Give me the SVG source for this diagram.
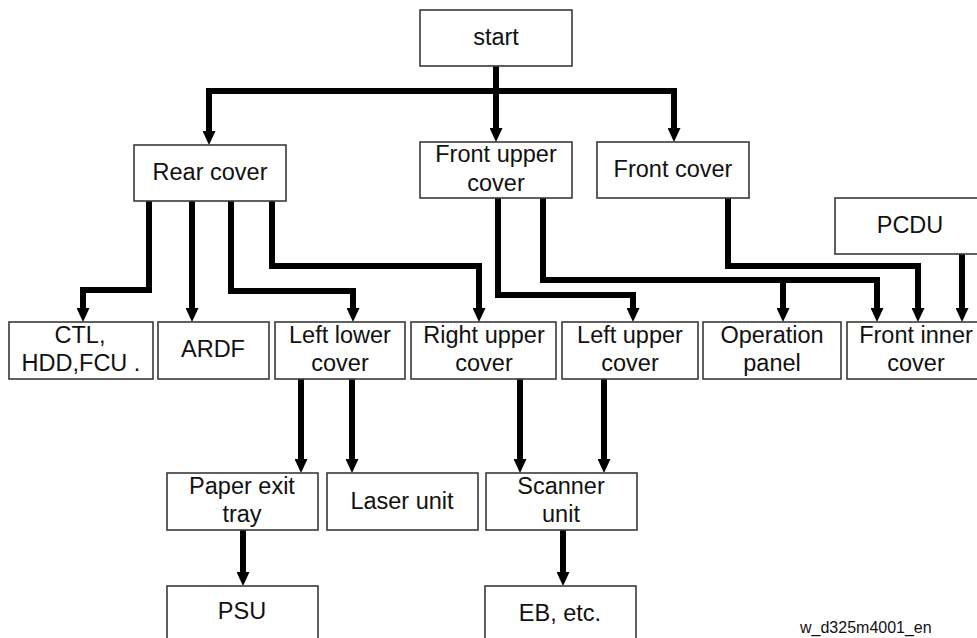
<svg xmlns="http://www.w3.org/2000/svg" width="977" height="638" viewBox="0 0 977 638">
<style>
.box{fill:#fff;stroke:#3a3a3a;stroke-width:1.6}
.t{font-family:"Liberation Sans",Arial,sans-serif;font-size:23.5px;fill:#111;text-anchor:middle}
.c{fill:none;stroke:#000;stroke-width:6;stroke-linejoin:miter;marker-end:url(#ah)}
.wm{font-family:"Liberation Sans",Arial,sans-serif;font-size:16px;fill:#111}
</style>
<defs>
<marker id="ah" viewBox="0 0 14 13" refX="1" refY="6.5" markerWidth="14" markerHeight="13" markerUnits="userSpaceOnUse" orient="auto">
<path d="M0,0 L14,6.5 L0,13 z" fill="#000"/>
</marker>
</defs>
<rect width="977" height="638" fill="#fff"/>
<g id="connectors">
<path class="c" d="M496,66 V129"/>
<path class="c" d="M496,91 H209 V132"/>
<path class="c" d="M496,91 H674 V129"/>
<path class="c" d="M149,201 V290 H83 V309"/>
<path class="c" d="M192,201 V309"/>
<path class="c" d="M231,201 V291 H353 V309"/>
<path class="c" d="M272,201 V266 H479 V309"/>
<path class="c" d="M498,198 V295 H633 V309"/>
<path class="c" d="M543,198 V280 H877 V309"/>
<path class="c" d="M783,280 V309"/>
<path class="c" d="M728,198 V266 H918 V309"/>
<path class="c" d="M962,254 V309"/>
<path class="c" d="M301,379 V460"/>
<path class="c" d="M352,379 V460"/>
<path class="c" d="M520,379 V460"/>
<path class="c" d="M604,379 V460"/>
<path class="c" d="M243,530 V573"/>
<path class="c" d="M563,530 V573"/>
</g>
<g id="start"><rect class="box" x="420" y="10" width="152" height="56"/><text class="t" x="496" y="45">start</text></g>
<g id="rear-cover"><rect class="box" x="134" y="145" width="152" height="56"/><text class="t" x="210" y="180">Rear cover</text></g>
<g id="front-upper-cover"><rect class="box" x="420" y="142" width="152" height="56"/><text class="t" x="496" y="162">Front upper</text><text class="t" x="496" y="191">cover</text></g>
<g id="front-cover"><rect class="box" x="597" y="142" width="152" height="56"/><text class="t" x="673" y="177">Front cover</text></g>
<g id="pcdu"><rect class="box" x="835" y="198" width="152" height="56"/><text class="t" x="910" y="233">PCDU</text></g>
<g id="ctl"><rect class="box" x="9" y="322" width="144" height="57"/><text class="t" x="80" y="343">CTL,</text><text class="t" x="81" y="371">HDD,FCU .</text></g>
<g id="ardf"><rect class="box" x="158" y="322" width="111" height="57"/><text class="t" x="213" y="357">ARDF</text></g>
<g id="left-lower-cover"><rect class="box" x="275" y="322" width="130" height="57"/><text class="t" x="340" y="343">Left lower</text><text class="t" x="340" y="371">cover</text></g>
<g id="right-upper-cover"><rect class="box" x="411" y="322" width="145" height="57"/><text class="t" x="484" y="343">Right upper</text><text class="t" x="484" y="371">cover</text></g>
<g id="left-upper-cover"><rect class="box" x="562" y="322" width="136" height="57"/><text class="t" x="630" y="343">Left upper</text><text class="t" x="630" y="371">cover</text></g>
<g id="operation-panel"><rect class="box" x="703" y="322" width="138" height="57"/><text class="t" x="772" y="343">Operation</text><text class="t" x="772" y="371">panel</text></g>
<g id="front-inner-cover"><rect class="box" x="847" y="322" width="136" height="57"/><text class="t" x="916" y="343">Front inner</text><text class="t" x="916" y="371">cover</text></g>
<g id="paper-exit-tray"><rect class="box" x="167" y="473" width="151" height="57"/><text class="t" x="242" y="494">Paper exit</text><text class="t" x="242" y="522">tray</text></g>
<g id="laser-unit"><rect class="box" x="327" y="473" width="151" height="57"/><text class="t" x="402" y="509">Laser unit</text></g>
<g id="scanner-unit"><rect class="box" x="486" y="473" width="151" height="57"/><text class="t" x="561" y="494">Scanner</text><text class="t" x="561" y="522">unit</text></g>
<g id="psu"><rect class="box" x="167" y="586" width="151" height="60"/><text class="t" x="242" y="619">PSU</text></g>
<g id="eb-etc"><rect class="box" x="485" y="586" width="151" height="60"/><text class="t" x="560" y="621">EB, etc.</text></g>
<text class="wm" x="800" y="633">w_d325m4001_en</text>
</svg>
